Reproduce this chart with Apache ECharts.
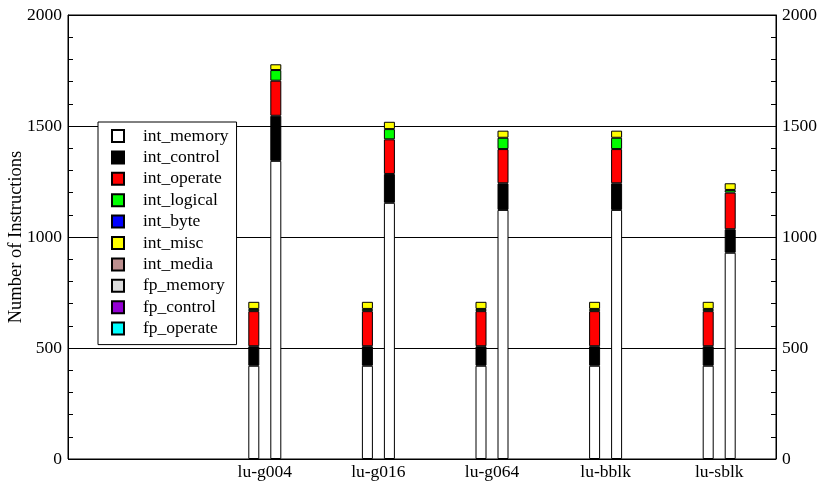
<!DOCTYPE html>
<html>
<head>
<meta charset="utf-8">
<script src="https://cdn.jsdelivr.net/npm/echarts@6/dist/echarts.min.js"></script>
<style>
  html, body { margin: 0; padding: 0; background: #fff; }
  #chart { width: 817px; height: 484px; }
</style>
</head>
<body>
<div id="chart"></div>
<script>
// Benchmarks along the x axis
const categories = ['lu-g004', 'lu-g016', 'lu-g064', 'lu-bblk', 'lu-sblk'];

// Instruction classes (legend order = stacking order, bottom to top)
const classNames = ['int_memory', 'int_control', 'int_operate', 'int_logical', 'int_byte',
                    'int_misc', 'int_media', 'fp_memory', 'fp_control', 'fp_operate'];
const classColors = ['#ffffff', '#000000', '#ff0000', '#00ff00', '#0000ff',
                     '#ffff00', '#bc8f8f', '#dcdcdc', '#9400d3', '#00ffff'];

// Left bar of each pair
const intMemoryA  = [420, 420, 420, 420, 420];
const intControlA = [88, 88, 88, 88, 88];
const intOperateA = [158, 158, 158, 158, 158];
const intLogicalA = [10, 10, 10, 10, 10];
const intByteA    = [0, 0, 0, 0, 0];
const intMiscA    = [32, 32, 32, 32, 32];
const intMediaA   = [0, 0, 0, 0, 0];
const fpMemoryA   = [0, 0, 0, 0, 0];
const fpControlA  = [0, 0, 0, 0, 0];
const fpOperateA  = [0, 0, 0, 0, 0];

// Right bar of each pair
const intMemoryB  = [1343, 1154, 1122, 1122, 929];
const intControlB = [203, 130, 120, 120, 106];
const intOperateB = [158, 156, 154, 154, 165];
const intLogicalB = [48, 46, 51, 51, 12];
const intByteB    = [0, 0, 0, 0, 0];
const intMiscB    = [26, 33, 32, 32, 30];
const intMediaB   = [0, 0, 0, 0, 0];
const fpMemoryB   = [0, 0, 0, 0, 0];
const fpControlB  = [0, 0, 0, 0, 0];
const fpOperateB  = [0, 0, 0, 0, 0];

// Y axis ticks
const yMin = 0, yMax = 2000, yStep = 500;

const stackA = [intMemoryA, intControlA, intOperateA, intLogicalA, intByteA,
                intMiscA, intMediaA, fpMemoryA, fpControlA, fpOperateA];
const stackB = [intMemoryB, intControlB, intOperateB, intLogicalB, intByteB,
                intMiscB, intMediaB, fpMemoryB, fpControlB, fpOperateB];

const FONT = 'Liberation Serif';
const chart = echarts.init(document.getElementById('chart'), null, { renderer: 'canvas' });

function makeSeries(values, stackName) {
  return values.map((arr, i) => ({
    name: classNames[i],
    type: 'bar',
    xAxisIndex: 1,
    yAxisIndex: 2,
    stack: stackName,
    barWidth: 11,
    barGap: '100%',
    itemStyle: { color: classColors[i], borderColor: '#000', borderWidth: 1 },
    emphasis: { disabled: true },
    data: arr.map(v => (v === 0 ? '-' : v))
  }));
}

const yAxisCommon = {
  gridIndex: 0,
  type: 'value',
  min: yMin,
  max: yMax,
  interval: yStep,
  axisLine: { show: true, lineStyle: { color: '#000', width: 1 } },
  axisTick: { show: true, inside: true, length: 5, lineStyle: { color: '#000' } },
  minorTick: { show: true, splitNumber: 5, length: 5, lineStyle: { color: '#000' } },
  axisLabel: { color: '#000', fontFamily: FONT, fontSize: 17.5, margin: 6, formatter: v => String(v) }
};

chart.setOption({
  animation: false,
  backgroundColor: '#fff',
  grid: [
    { left: 68, right: 41, top: 15, bottom: 25, outerBoundsMode: 'none', containLabel: false,
      show: true, borderColor: '#000', borderWidth: 1, backgroundColor: 'transparent' },
    { left: 208, right: 41, top: 15, bottom: 25, outerBoundsMode: 'none', containLabel: false }
  ],
  xAxis: [
    { gridIndex: 0, type: 'value', min: 0, max: 1, show: false },
    {
      gridIndex: 1, type: 'category', data: categories,
      axisLine: { show: false }, axisTick: { show: false },
      axisLabel: { color: '#000', fontFamily: FONT, fontSize: 17.5, margin: 4 }
    }
  ],
  yAxis: [
    Object.assign({}, yAxisCommon, {
      position: 'left',
      name: 'Number of Instructions',
      nameLocation: 'middle',
      nameGap: 42,
      nameMoveOverlap: false,
      nameTextStyle: { color: '#000', fontFamily: FONT, fontSize: 18.5 },
      splitLine: { show: true, lineStyle: { color: '#000', width: 1 } }
    }),
    Object.assign({}, yAxisCommon, {
      position: 'right',
      splitLine: { show: false }
    }),
    { gridIndex: 1, type: 'value', min: yMin, max: yMax, show: false }
  ],
  legend: {
    data: classNames,
    orient: 'vertical',
    left: 98,
    top: 122,
    padding: [5, 8, 7, 13],
    itemGap: 3.4,
    itemWidth: 12,
    itemHeight: 12,
    icon: 'rect',
    selectedMode: false,
    backgroundColor: '#fff',
    borderColor: '#000',
    borderWidth: 1,
    borderRadius: 0,
    textStyle: { color: '#000', fontFamily: FONT, fontSize: 17.5, lineHeight: 18, padding: [0, 0, 0, 14] }
  },
  series: makeSeries(stackA, 'first').concat(makeSeries(stackB, 'second'))
});
</script>
</body>
</html>
